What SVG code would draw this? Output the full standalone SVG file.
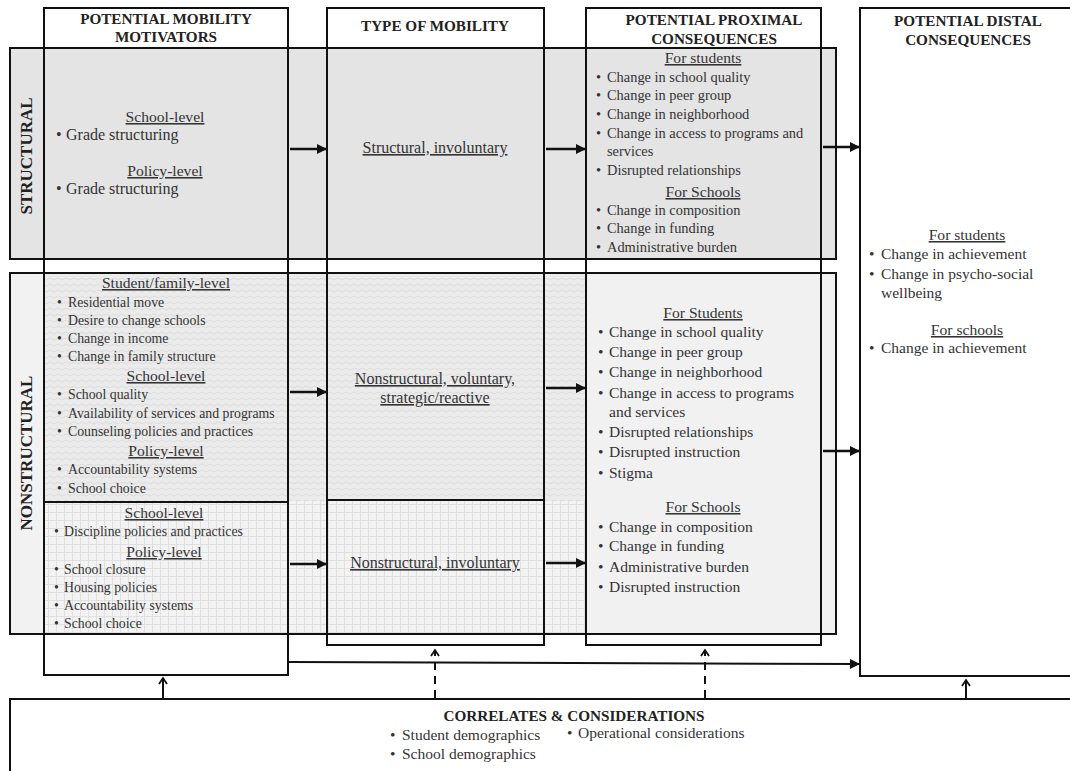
<svg xmlns="http://www.w3.org/2000/svg" width="1070" height="771" viewBox="0 0 1070 771">
<style>
.box{fill:none;stroke:#111;stroke-width:2}
.hd{font-family:"Liberation Serif",serif;font-weight:bold;font-size:15.2px;fill:#222;text-anchor:middle}
.side{font-family:"Liberation Serif",serif;font-weight:bold;font-size:17px;fill:#222;text-anchor:middle}
.h{font-family:"Liberation Serif",serif;font-size:15.6px;fill:#333;text-decoration:underline;text-anchor:middle}
.a{font-family:"Liberation Serif",serif;font-size:16px;fill:#333}
.b{font-family:"Liberation Serif",serif;font-size:14.4px;fill:#333}
.c{font-family:"Liberation Serif",serif;font-size:13.8px;fill:#333}
.d{font-family:"Liberation Serif",serif;font-size:15.5px;fill:#333}
.u{text-decoration:underline;text-anchor:middle}
.conn{stroke:#111;stroke-width:2.5;fill:none}
.dash{stroke:#111;stroke-width:2;fill:none;stroke-dasharray:8 6}
.thin{stroke:#111;stroke-width:2;fill:none}
.chev{stroke:#111;stroke-width:1.8;fill:none}
</style>
<defs>
<pattern id="wavy" width="8" height="6" patternUnits="userSpaceOnUse">
<rect width="8" height="6" fill="#ebebeb"/>
<path d="M0 3 Q2 1 4 3 T8 3" stroke="#dcdcdc" fill="none" stroke-width="1"/>
</pattern>
<pattern id="grid" width="8" height="8" patternUnits="userSpaceOnUse">
<rect width="8" height="8" fill="#f3f3f3"/>
<path d="M0 0.5H8M0.5 0V8" stroke="#e0e0e0" stroke-width="1"/>
</pattern>
<marker id="ah" viewBox="0 0 10 10" refX="9" refY="5" markerWidth="11" markerHeight="10" orient="auto" markerUnits="userSpaceOnUse">
<path d="M0 0L10 5L0 10z" fill="#111"/>
</marker>
</defs>
<rect width="1070" height="771" fill="#fff"/>

<g id="bands">
<rect x="10" y="48" width="826" height="211" fill="#e4e4e4"/>
<rect x="10" y="273" width="34" height="361" fill="#f2f2f2"/>
<rect x="44" y="273" width="542" height="228" fill="url(#wavy)"/>
<rect x="44" y="501" width="542" height="133" fill="url(#grid)"/>
<rect x="586" y="273" width="250" height="361" fill="#f1f1f1"/>
<rect class="box" x="10" y="48" width="826" height="211"/>
<rect class="box" x="10" y="273" width="826" height="361"/>
<text class="side" transform="translate(32 156) rotate(-90)">STRUCTURAL</text>
<text class="side" transform="translate(32 453) rotate(-90)">NONSTRUCTURAL</text>
</g>

<g id="col-motivators">
<rect class="box" x="44" y="8" width="244" height="667"/>
<line class="thin" x1="44" y1="502" x2="288" y2="502"/>
<text class="hd" x="166" y="24">POTENTIAL MOBILITY</text>
<text class="hd" x="166" y="42">MOTIVATORS</text>
<text class="h" x="165" y="122">School-level</text>
<text class="a" x="56" y="140">•<tspan x="66">Grade structuring</tspan></text>
<text class="h" x="165" y="176">Policy-level</text>
<text class="a" x="56" y="194">•<tspan x="66">Grade structuring</tspan></text>
<text class="h" x="166" y="288">Student/family-level</text>
<text class="c" x="57" y="307">•<tspan x="68">Residential move</tspan></text>
<text class="c" x="57" y="325">•<tspan x="68">Desire to change schools</tspan></text>
<text class="c" x="57" y="343">•<tspan x="68">Change in income</tspan></text>
<text class="c" x="57" y="361">•<tspan x="68">Change in family structure</tspan></text>
<text class="h" x="166" y="381">School-level</text>
<text class="c" x="57" y="399">•<tspan x="68">School quality</tspan></text>
<text class="c" x="57" y="418">•<tspan x="68">Availability of services and programs</tspan></text>
<text class="c" x="57" y="436">•<tspan x="68">Counseling policies and practices</tspan></text>
<text class="h" x="166" y="456">Policy-level</text>
<text class="c" x="57" y="474">•<tspan x="68">Accountability systems</tspan></text>
<text class="c" x="57" y="493">•<tspan x="68">School choice</tspan></text>
<text class="h" x="164" y="518">School-level</text>
<text class="c" x="54" y="536">•<tspan x="64">Discipline policies and practices</tspan></text>
<text class="h" x="164" y="557">Policy-level</text>
<text class="c" x="54" y="574">•<tspan x="64">School closure</tspan></text>
<text class="c" x="54" y="592">•<tspan x="64">Housing policies</tspan></text>
<text class="c" x="54" y="610">•<tspan x="64">Accountability systems</tspan></text>
<text class="c" x="54" y="628">•<tspan x="64">School choice</tspan></text>
</g>

<g id="col-type">
<rect class="box" x="327" y="8" width="217" height="637"/>
<line class="thin" x1="327" y1="500" x2="544" y2="500"/>
<text class="hd" x="435" y="31">TYPE OF MOBILITY</text>
<text class="a u" x="435" y="153">Structural, involuntary</text>
<text class="a u" x="435" y="384">Nonstructural, voluntary,</text>
<text class="a u" x="435" y="403">strategic/reactive</text>
<text class="a u" x="435" y="568">Nonstructural, involuntary</text>
</g>

<g id="col-proximal">
<rect class="box" x="586" y="8" width="235" height="637"/>
<text class="hd" x="714" y="25">POTENTIAL PROXIMAL</text>
<text class="hd" x="714" y="44">CONSEQUENCES</text>
<text class="h" x="703" y="63">For students</text>
<text class="b" x="596" y="82">•<tspan x="607">Change in school quality</tspan></text>
<text class="b" x="596" y="100">•<tspan x="607">Change in peer group</tspan></text>
<text class="b" x="596" y="119">•<tspan x="607">Change in neighborhood</tspan></text>
<text class="b" x="596" y="138">•<tspan x="607">Change in access to programs and</tspan></text>
<text class="b" x="607" y="156">services</text>
<text class="b" x="596" y="175">•<tspan x="607">Disrupted relationships</tspan></text>
<text class="h" x="703" y="197">For Schools</text>
<text class="b" x="596" y="215">•<tspan x="607">Change in composition</tspan></text>
<text class="b" x="596" y="233">•<tspan x="607">Change in funding</tspan></text>
<text class="b" x="596" y="252">•<tspan x="607">Administrative burden</tspan></text>
<text class="h" x="703" y="318">For Students</text>
<text class="d" x="598" y="337">•<tspan x="609">Change in school quality</tspan></text>
<text class="d" x="598" y="357">•<tspan x="609">Change in peer group</tspan></text>
<text class="d" x="598" y="377">•<tspan x="609">Change in neighborhood</tspan></text>
<text class="d" x="598" y="398">•<tspan x="609">Change in access to programs</tspan></text>
<text class="d" x="609" y="417">and services</text>
<text class="d" x="598" y="437">•<tspan x="609">Disrupted relationships</tspan></text>
<text class="d" x="598" y="457">•<tspan x="609">Disrupted instruction</tspan></text>
<text class="d" x="598" y="478">•<tspan x="609">Stigma</tspan></text>
<text class="h" x="703" y="512">For Schools</text>
<text class="d" x="598" y="532">•<tspan x="609">Change in composition</tspan></text>
<text class="d" x="598" y="551">•<tspan x="609">Change in funding</tspan></text>
<text class="d" x="598" y="572">•<tspan x="609">Administrative burden</tspan></text>
<text class="d" x="598" y="592">•<tspan x="609">Disrupted instruction</tspan></text>
</g>

<g id="col-distal">
<rect class="box" x="860" y="8" width="220" height="668" fill="#fff"/>
<text class="hd" x="968" y="26">POTENTIAL DISTAL</text>
<text class="hd" x="968" y="45">CONSEQUENCES</text>
<text class="h" x="967" y="240">For students</text>
<text class="d" x="869" y="259">•<tspan x="881">Change in achievement</tspan></text>
<text class="d" x="869" y="279">•<tspan x="881">Change in psycho-social</tspan></text>
<text class="d" x="881" y="298">wellbeing</text>
<text class="h" x="967" y="335">For schools</text>
<text class="d" x="869" y="353">•<tspan x="881">Change in achievement</tspan></text>
</g>

<g id="correlates">
<rect class="box" x="10" y="699" width="1075" height="90" fill="#fff"/>
<text class="hd" x="574" y="721">CORRELATES &amp; CONSIDERATIONS</text>
<text class="d" x="390" y="740">•<tspan x="402">Student demographics</tspan></text>
<text class="d" x="390" y="759">•<tspan x="402">School demographics</tspan></text>
<text class="d" x="567" y="738">•<tspan x="578">Operational considerations</tspan></text>
</g>

<g id="connectors">
<line class="conn" x1="290" y1="149" x2="326" y2="149" marker-end="url(#ah)"/>
<line class="conn" x1="546" y1="149" x2="585" y2="149" marker-end="url(#ah)"/>
<line class="conn" x1="823" y1="147" x2="859" y2="147" marker-end="url(#ah)"/>
<line class="conn" x1="290" y1="392" x2="326" y2="392" marker-end="url(#ah)"/>
<line class="conn" x1="546" y1="388" x2="585" y2="388" marker-end="url(#ah)"/>
<line class="conn" x1="290" y1="564" x2="326" y2="564" marker-end="url(#ah)"/>
<line class="conn" x1="546" y1="563" x2="585" y2="563" marker-end="url(#ah)"/>
<line class="conn" x1="823" y1="451" x2="859" y2="451" marker-end="url(#ah)"/>
<line class="thin" x1="289" y1="662" x2="859" y2="664" marker-end="url(#ah)"/>
<line class="thin" x1="163" y1="698" x2="163" y2="679"/>
<path class="chev" d="M159 684L163 678L167 684"/>
<line class="dash" x1="435" y1="698" x2="435" y2="650"/>
<path class="chev" d="M431 656L435 650L439 656"/>
<line class="dash" x1="705" y1="698" x2="705" y2="650"/>
<path class="chev" d="M701 656L705 650L709 656"/>
<line class="thin" x1="966" y1="698" x2="966" y2="680"/>
<path class="chev" d="M962 686L966 680L970 686"/>
</g>
</svg>
